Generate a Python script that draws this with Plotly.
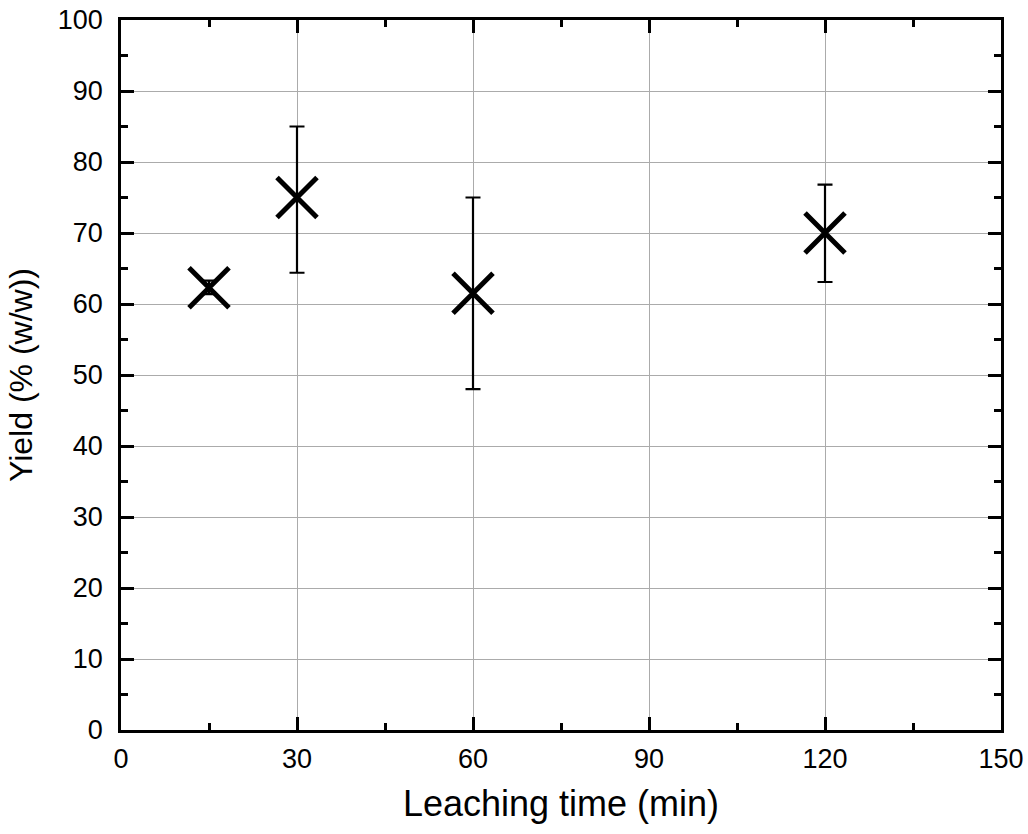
import plotly.graph_objects as go

# Leaching time (min) vs. yield (% w/w), with standard-deviation error bars
leaching_time = [15, 30, 60, 120]
yield_pct = [62.3, 75.0, 61.5, 70.0]
err_plus = [1.0, 10.0, 13.5, 6.8]
err_minus = [0.9, 10.6, 13.5, 6.9]

x_ticks = [0, 30, 60, 90, 120, 150]
y_ticks = [0, 10, 20, 30, 40, 50, 60, 70, 80, 90, 100]

font_family = "Liberation Sans, Arial, sans-serif"

fig = go.Figure()

# The tight error bar at 15 min gets a narrower cap
cap_widths = [5, 7.5, 7.5, 7.5]
for i in range(len(leaching_time)):
    fig.add_trace(go.Scatter(
        x=[leaching_time[i]],
        y=[yield_pct[i]],
        mode="markers",
        marker=dict(symbol="x-thin", size=40, color="black",
                    line=dict(color="black", width=5)),
        error_y=dict(type="data", symmetric=False,
                     array=[err_plus[i]], arrayminus=[err_minus[i]],
                     color="black", thickness=2.2, width=cap_widths[i]),
        showlegend=False,
        cliponaxis=False,
    ))

axis_common = dict(
    showline=True, linecolor="black", linewidth=2.5, mirror="ticks",
    ticks="inside", ticklen=13, tickwidth=2.5, tickcolor="black",
    showgrid=True, gridcolor="#ababab", gridwidth=1,
    zeroline=False, automargin=False,
    tickfont=dict(family=font_family, size=27, color="black"),
)

fig.update_xaxes(
    range=[0, 150], tickvals=x_ticks, ticktext=[str(v) for v in x_ticks],
    minor=dict(dtick=15, ticks="inside", ticklen=7, tickwidth=2.5,
               tickcolor="black", showgrid=False),
    title_text="Leaching time (min)", title_standoff=18,
    title_font=dict(family=font_family, size=36, color="black"),
    ticklabelstandoff=3,
    **axis_common,
)
fig.update_yaxes(
    range=[0, 100], tickvals=y_ticks, ticktext=[str(v) for v in y_ticks],
    minor=dict(dtick=5, ticks="inside", ticklen=7, tickwidth=2.5,
               tickcolor="black", showgrid=False),
    title_text="Yield (% (w/w))", title_standoff=16,
    title_font=dict(family=font_family, size=32, color="black"),
    ticklabelstandoff=10,
    **axis_common,
)

fig.update_layout(
    width=1028, height=834,
    margin=dict(l=121, r=27, t=20, b=104),
    plot_bgcolor="white", paper_bgcolor="white",
    font=dict(family=font_family, color="black"),
)

fig.write_html("out.html")
